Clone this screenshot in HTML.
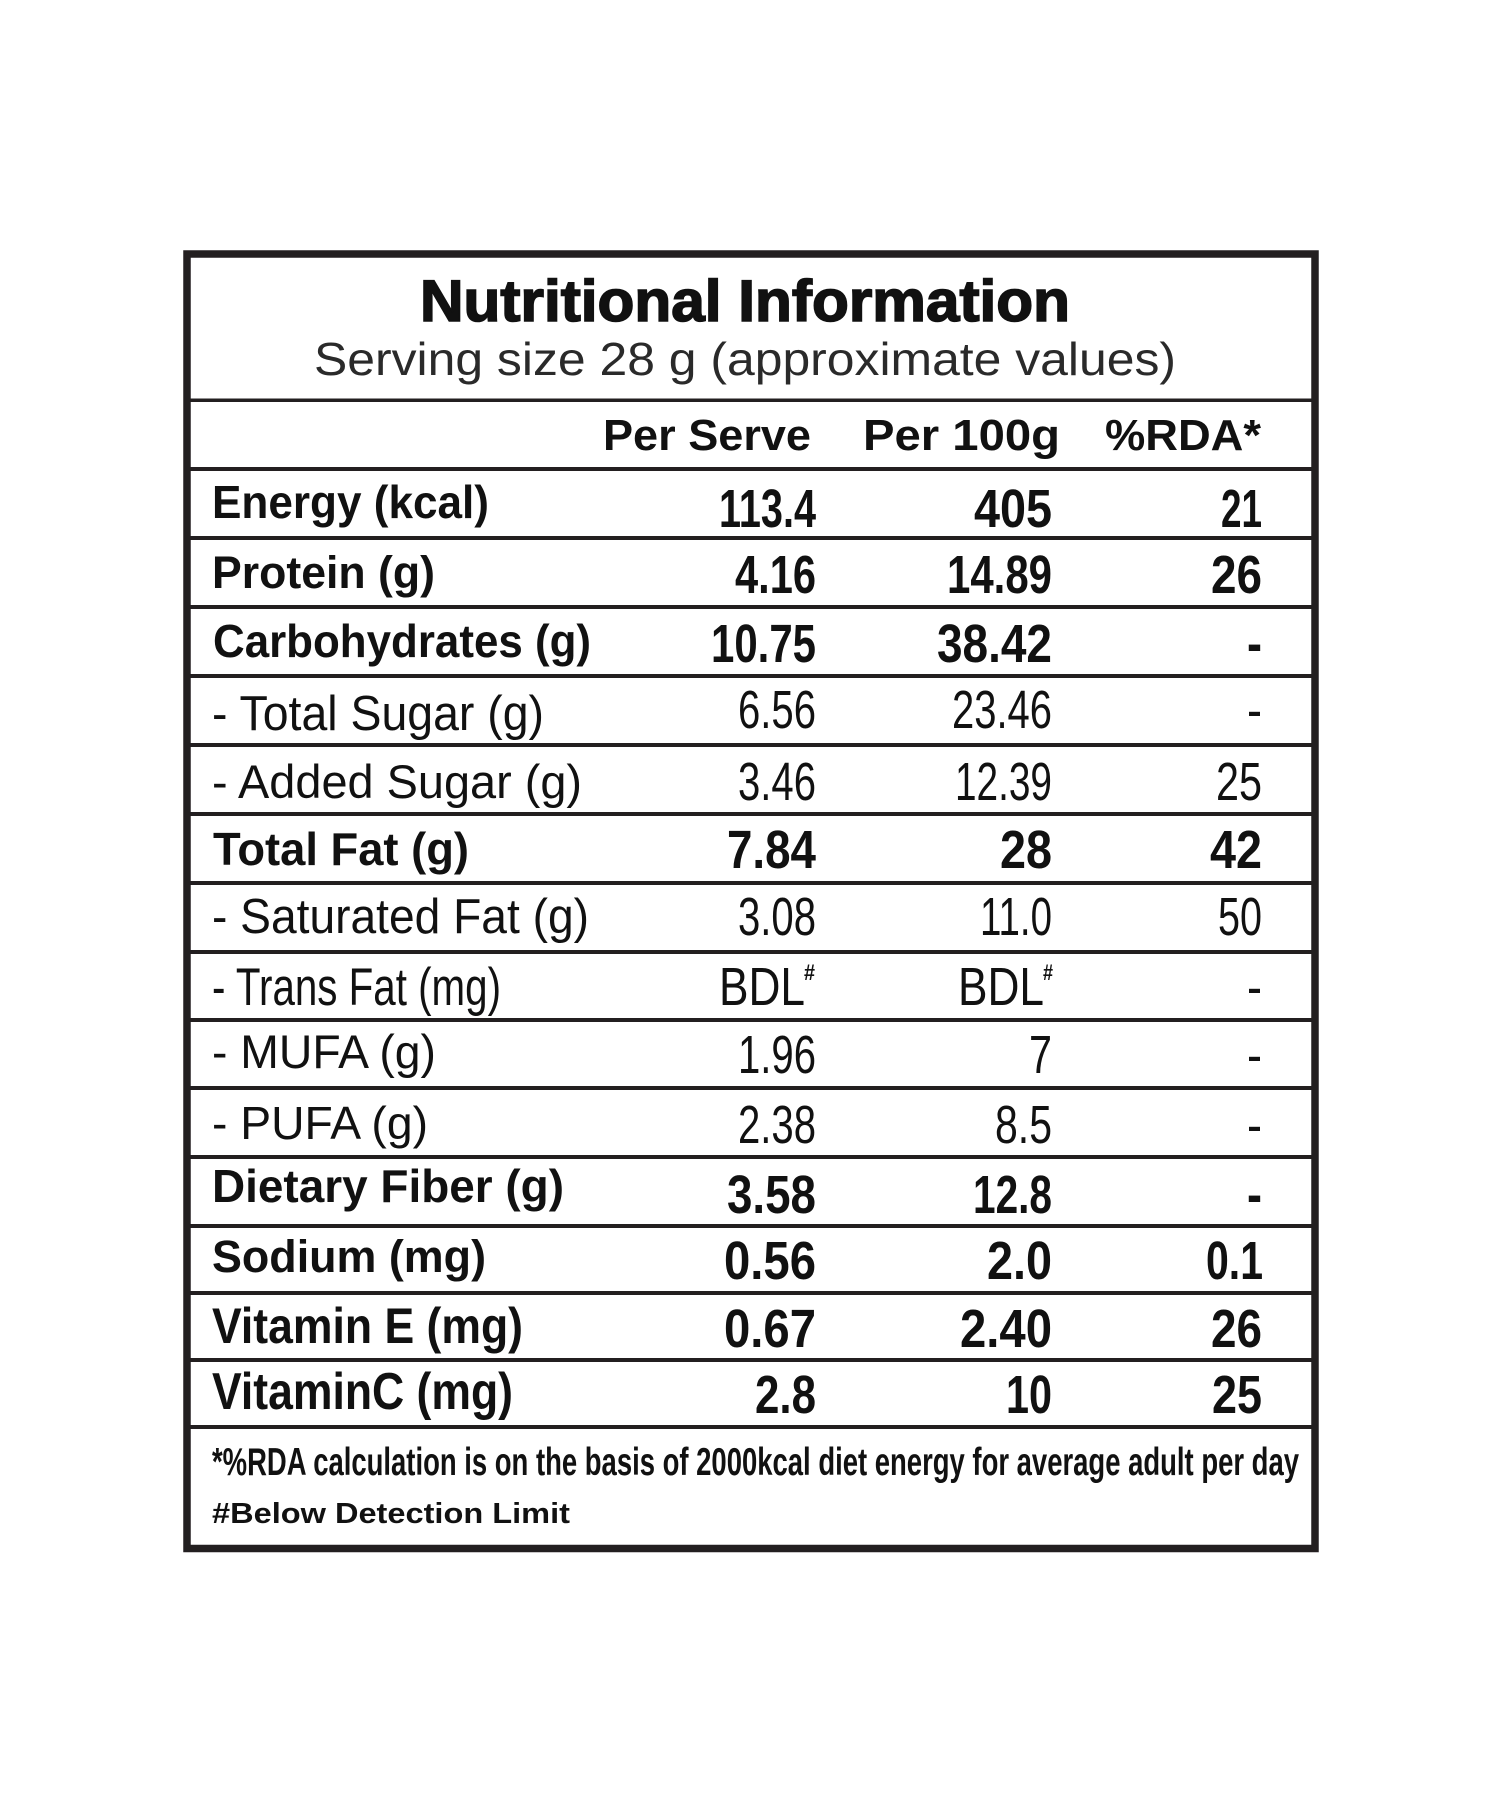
<!DOCTYPE html>
<html>
<head>
<meta charset="utf-8">
<style>
  html,body{margin:0;padding:0;background:#fff;}
  svg{display:block;}
  text{font-family:"Liberation Sans", Arial, sans-serif; fill:#111;}
  .b{font-weight:bold;}
  .r{font-weight:normal;}
</style>
</head>
<body>
<svg width="1500" height="1800" viewBox="0 0 1500 1800" xmlns="http://www.w3.org/2000/svg">
  <rect x="0" y="0" width="1500" height="1800" fill="#fff"/>
  <!-- outer box -->
  <rect x="187" y="254" width="1128" height="1294.5" fill="none" stroke="#231f20" stroke-width="7.5"/>
  <!-- inner lines -->
  <g fill="#231f20">
    <rect x="187" y="398.5" width="1128" height="3.5"/>
    <rect x="187" y="467" width="1128" height="4"/>
    <rect x="187" y="536" width="1128" height="4"/>
    <rect x="187" y="605" width="1128" height="4"/>
    <rect x="187" y="674" width="1128" height="4"/>
    <rect x="187" y="743" width="1128" height="4"/>
    <rect x="187" y="812" width="1128" height="4"/>
    <rect x="187" y="881" width="1128" height="4"/>
    <rect x="187" y="950" width="1128" height="4"/>
    <rect x="187" y="1018" width="1128" height="4"/>
    <rect x="187" y="1086" width="1128" height="4"/>
    <rect x="187" y="1155" width="1128" height="4"/>
    <rect x="187" y="1224" width="1128" height="4"/>
    <rect x="187" y="1291" width="1128" height="4"/>
    <rect x="187" y="1358" width="1128" height="4"/>
    <rect x="187" y="1425" width="1128" height="4"/>
  </g>

  <!-- title -->
  <text class="b" x="420" y="321" font-size="58" textLength="650" lengthAdjust="spacingAndGlyphs" stroke="#111" stroke-width="1.6">Nutritional Information</text>
  <text class="r" x="314" y="375" font-size="46" textLength="862" lengthAdjust="spacingAndGlyphs" style="fill:#2a2a2a">Serving size 28 g (approximate values)</text>

  <!-- header -->
  <text class="b" x="603" y="450" font-size="44" textLength="208" lengthAdjust="spacingAndGlyphs">Per Serve</text>
  <text class="b" x="863" y="450" font-size="44" textLength="197" lengthAdjust="spacingAndGlyphs">Per 100g</text>
  <text class="b" x="1105" y="450" font-size="44" textLength="156" lengthAdjust="spacingAndGlyphs">%RDA*</text>

  <!-- labels -->
  <text class="b" x="212" y="518" font-size="46" textLength="277" lengthAdjust="spacingAndGlyphs">Energy (kcal)</text>
  <text class="b" x="212" y="588" font-size="45" textLength="223" lengthAdjust="spacingAndGlyphs">Protein (g)</text>
  <text class="b" x="213" y="657" font-size="46" textLength="378" lengthAdjust="spacingAndGlyphs">Carbohydrates (g)</text>
  <text class="r" x="212" y="730" font-size="49" textLength="332" lengthAdjust="spacingAndGlyphs">- Total Sugar (g)</text>
  <text class="r" x="212" y="798" font-size="47" textLength="370" lengthAdjust="spacingAndGlyphs">- Added Sugar (g)</text>
  <text class="b" x="213" y="865" font-size="46" textLength="256" lengthAdjust="spacingAndGlyphs">Total Fat (g)</text>
  <text class="r" x="212" y="933" font-size="49" textLength="377" lengthAdjust="spacingAndGlyphs">- Saturated Fat (g)</text>
  <text class="r" x="212" y="1005" font-size="53" textLength="289" lengthAdjust="spacingAndGlyphs">- Trans Fat (mg)</text>
  <text class="r" x="212" y="1068" font-size="47" textLength="224" lengthAdjust="spacingAndGlyphs">- MUFA (g)</text>
  <text class="r" x="212" y="1139" font-size="46" textLength="216" lengthAdjust="spacingAndGlyphs">- PUFA (g)</text>
  <text class="b" x="212" y="1202" font-size="46" textLength="352" lengthAdjust="spacingAndGlyphs">Dietary Fiber (g)</text>
  <text class="b" x="212" y="1272" font-size="45" textLength="274" lengthAdjust="spacingAndGlyphs">Sodium (mg)</text>
  <text class="b" x="212" y="1343" font-size="50" textLength="311" lengthAdjust="spacingAndGlyphs">Vitamin E (mg)</text>
  <text class="b" x="212" y="1409" font-size="52" textLength="301" lengthAdjust="spacingAndGlyphs">VitaminC (mg)</text>

  <!-- values: bold -->
  <g font-size="54">
    <text class="b" x="719" y="527" textLength="97" lengthAdjust="spacingAndGlyphs">113.4</text>
    <text class="b" x="974" y="527" textLength="78" lengthAdjust="spacingAndGlyphs">405</text>
    <text class="b" x="1221" y="527" textLength="41" lengthAdjust="spacingAndGlyphs">21</text>

    <text class="b" x="735" y="593" textLength="81" lengthAdjust="spacingAndGlyphs">4.16</text>
    <text class="b" x="947" y="593" textLength="105" lengthAdjust="spacingAndGlyphs">14.89</text>
    <text class="b" x="1211" y="593" textLength="51" lengthAdjust="spacingAndGlyphs">26</text>

    <text class="b" x="711" y="662" textLength="105" lengthAdjust="spacingAndGlyphs">10.75</text>
    <text class="b" x="937" y="662" textLength="115" lengthAdjust="spacingAndGlyphs">38.42</text>
    <text class="b" x="1247" y="662" textLength="15" lengthAdjust="spacingAndGlyphs">-</text>

    <text class="b" x="727" y="868" textLength="89" lengthAdjust="spacingAndGlyphs">7.84</text>
    <text class="b" x="1000" y="868" textLength="52" lengthAdjust="spacingAndGlyphs">28</text>
    <text class="b" x="1210" y="868" textLength="52" lengthAdjust="spacingAndGlyphs">42</text>

    <text class="b" x="727" y="1213" textLength="89" lengthAdjust="spacingAndGlyphs">3.58</text>
    <text class="b" x="973" y="1213" textLength="79" lengthAdjust="spacingAndGlyphs">12.8</text>
    <text class="b" x="1247" y="1213" textLength="15" lengthAdjust="spacingAndGlyphs">-</text>

    <text class="b" x="724" y="1279" textLength="92" lengthAdjust="spacingAndGlyphs">0.56</text>
    <text class="b" x="987" y="1279" textLength="65" lengthAdjust="spacingAndGlyphs">2.0</text>
    <text class="b" x="1206" y="1279" textLength="57" lengthAdjust="spacingAndGlyphs">0.1</text>

    <text class="b" x="724" y="1347" textLength="92" lengthAdjust="spacingAndGlyphs">0.67</text>
    <text class="b" x="960" y="1347" textLength="92" lengthAdjust="spacingAndGlyphs">2.40</text>
    <text class="b" x="1211" y="1347" textLength="51" lengthAdjust="spacingAndGlyphs">26</text>

    <text class="b" x="755" y="1413" textLength="61" lengthAdjust="spacingAndGlyphs">2.8</text>
    <text class="b" x="1006" y="1413" textLength="46" lengthAdjust="spacingAndGlyphs">10</text>
    <text class="b" x="1212" y="1413" textLength="50" lengthAdjust="spacingAndGlyphs">25</text>
  </g>

  <!-- values: regular -->
  <g font-size="54">
    <text class="r" x="738" y="728" textLength="78" lengthAdjust="spacingAndGlyphs">6.56</text>
    <text class="r" x="952" y="728" textLength="100" lengthAdjust="spacingAndGlyphs">23.46</text>
    <text class="r" x="1247" y="728" textLength="15" lengthAdjust="spacingAndGlyphs">-</text>

    <text class="r" x="738" y="800" textLength="78" lengthAdjust="spacingAndGlyphs">3.46</text>
    <text class="r" x="955" y="800" textLength="97" lengthAdjust="spacingAndGlyphs">12.39</text>
    <text class="r" x="1216" y="800" textLength="46" lengthAdjust="spacingAndGlyphs">25</text>

    <text class="r" x="738" y="935" textLength="78" lengthAdjust="spacingAndGlyphs">3.08</text>
    <text class="r" x="980" y="935" textLength="72" lengthAdjust="spacingAndGlyphs">11.0</text>
    <text class="r" x="1218" y="935" textLength="44" lengthAdjust="spacingAndGlyphs">50</text>

    <text class="r" x="719" y="1005" textLength="86" lengthAdjust="spacingAndGlyphs">BDL</text>
    <text class="r" x="958" y="1005" textLength="86" lengthAdjust="spacingAndGlyphs">BDL</text>
    <text class="r" x="1247" y="1005" textLength="15" lengthAdjust="spacingAndGlyphs">-</text>

    <text class="r" x="738" y="1073" textLength="78" lengthAdjust="spacingAndGlyphs">1.96</text>
    <text class="r" x="1029" y="1073" textLength="23" lengthAdjust="spacingAndGlyphs">7</text>
    <text class="r" x="1247" y="1073" textLength="15" lengthAdjust="spacingAndGlyphs">-</text>

    <text class="r" x="738" y="1143" textLength="78" lengthAdjust="spacingAndGlyphs">2.38</text>
    <text class="r" x="995" y="1143" textLength="57" lengthAdjust="spacingAndGlyphs">8.5</text>
    <text class="r" x="1247" y="1143" textLength="15" lengthAdjust="spacingAndGlyphs">-</text>
  </g>
  <text class="b" x="804" y="980" font-size="22" textLength="11" lengthAdjust="spacingAndGlyphs">#</text>
  <text class="b" x="1043" y="980" font-size="22" textLength="10" lengthAdjust="spacingAndGlyphs">#</text>

  <!-- footer -->
  <text class="b" x="212" y="1475" font-size="39" textLength="1087" lengthAdjust="spacingAndGlyphs">*%RDA calculation is on the basis of 2000kcal diet energy for average adult per day</text>
  <text class="b" x="212" y="1523" font-size="29" textLength="358" lengthAdjust="spacingAndGlyphs">#Below Detection Limit</text>
</svg>
</body>
</html>
